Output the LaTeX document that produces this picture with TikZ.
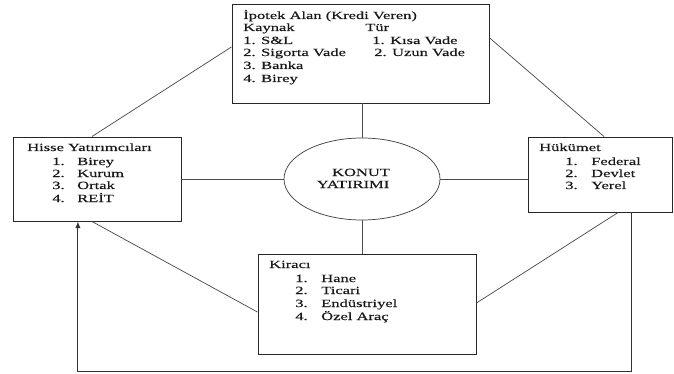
\documentclass[tikz,border=0pt]{standalone}
\usepackage{fontspec}
\setmainfont{Liberation Serif}[FakeStretch=1.5,FakeBold=0.4]
\usetikzlibrary{shapes.geometric,arrows.meta,calc}
\tikzset{
  boxnode/.style={draw=black!85, line width=0.7pt, inner sep=0pt, fill=white},
  conn/.style={draw=black!70, line width=0.55pt},
  txt/.style={anchor=base west, inner sep=0pt, font=\fontsize{8.25}{10}\selectfont, text=black!90},
  ctxt/.style={anchor=base, inner sep=0pt, font=\fontsize{8.25}{10}\selectfont, text=black!90},
}
\begin{document}
\begin{tikzpicture}[x=0.75pt,y=-0.75pt]
\useasboundingbox (0,0) rectangle (674,374);
\node[boxnode, minimum width=257*0.75pt, minimum height=99*0.75pt] (top) at (360.5,53.5) {};
\node[boxnode, minimum width=168*0.75pt, minimum height=84*0.75pt] (left) at (97,179) {};
\node[boxnode, minimum width=144*0.75pt, minimum height=75*0.75pt] (right) at (600,174.5) {};
\node[boxnode, minimum width=218*0.75pt, minimum height=100*0.75pt] (bot) at (367,304) {};
\node[draw=black!75, line width=0.55pt, ellipse, inner sep=0pt, minimum width=156*0.75pt, minimum height=82*0.75pt] (ell) at (362,179) {};

% connectors
\draw[conn] (top.south -| ell.north) -- (ell.north);
\draw[conn] (left.east) -- (ell.west);
\draw[conn] (ell.east) -- (ell.east -| right.west);
\draw[conn] (ell.south) -- (ell.south |- bot.north);
\draw[conn] ($(top.north west)!0.434!(top.south west)$) -- ($(left.north west)!0.47!(left.north east)$);
\draw[conn] ($(top.north east)!0.343!(top.south east)$) -- ($(right.north west)!0.528!(right.north east)$);
\draw[conn] ($(left.south west)!0.47!(left.south east)$) -- ($(bot.north west)!0.58!(bot.south west)$);
\draw[conn] ($(right.south west)!0.625!(right.south east)$) -- ($(bot.north east)!0.49!(bot.south east)$);
\coordinate (rb) at ($(right.south west)!0.715!(right.south east)$);
\coordinate (lb) at ($(left.south west)!0.387!(left.south east)$);
\coordinate (base) at (0,371);
\draw[draw=black!80, line width=0.75pt, -{Latex[length=5pt,width=4pt]}] (rb) -- (rb |- base) -| (lb);

% top box text
\node[txt] (t1) at (243,19) {İpotek Alan (Kredi Veren)};
\node[txt] (t2) at (243,31) {Kaynak};
\node[txt] (t3) at (365,31) {Tür};
\node[txt] (t4) at (243,44) {1. S\&L};
\node[txt] (t5) at (372,44) {1. Kısa Vade};
\node[txt] (t6) at (243,56) {2. Sigorta Vade};
\node[txt] (t7) at (374,56) {2. Uzun Vade};
\node[txt] (t8) at (243,69) {3. Banka};
\node[txt] (t9) at (243,82) {4. Birey};

% left box text
\node[txt] (l0) at (27,151) {Hisse Yatırımcıları};
\node[txt] (l1n) at (52,165) {1.};  \node[txt] (l1) at (77,165) {Birey};
\node[txt] (l2n) at (52,177) {2.};  \node[txt] (l2) at (77,177) {Kurum};
\node[txt] (l3n) at (52,189) {3.};  \node[txt] (l3) at (77,189) {Ortak};
\node[txt] (l4n) at (52,202) {4.};  \node[txt] (l4) at (77,202) {REİT};

% right box text
\node[txt] (r0) at (539,151) {Hükümet};
\node[txt] (r1n) at (565,165) {1.};  \node[txt] (r1) at (591,165) {Federal};
\node[txt] (r2n) at (565,177) {2.};  \node[txt] (r2) at (591,177) {Devlet};
\node[txt] (r3n) at (565,189) {3.};  \node[txt] (r3) at (591,189) {Yerel};

% bottom box text
\node[txt] (b0) at (269,268) {Kiracı};
\node[txt] (b1n) at (295,282) {1.};  \node[txt] (b1) at (321,282) {Hane};
\node[txt] (b2n) at (295,294) {2.};  \node[txt] (b2) at (321,294) {Ticari};
\node[txt] (b3n) at (295,307) {3.};  \node[txt] (b3) at (321,307) {Endüstriyel};
\node[txt] (b4n) at (295,320) {4.};  \node[txt] (b4) at (321,320) {Özel Araç};

% ellipse text
\node[ctxt] (e1) at (361,176) {KONUT};
\node[ctxt] (e2) at (353,188) {YATIRIMI};
\end{tikzpicture}
\end{document}
